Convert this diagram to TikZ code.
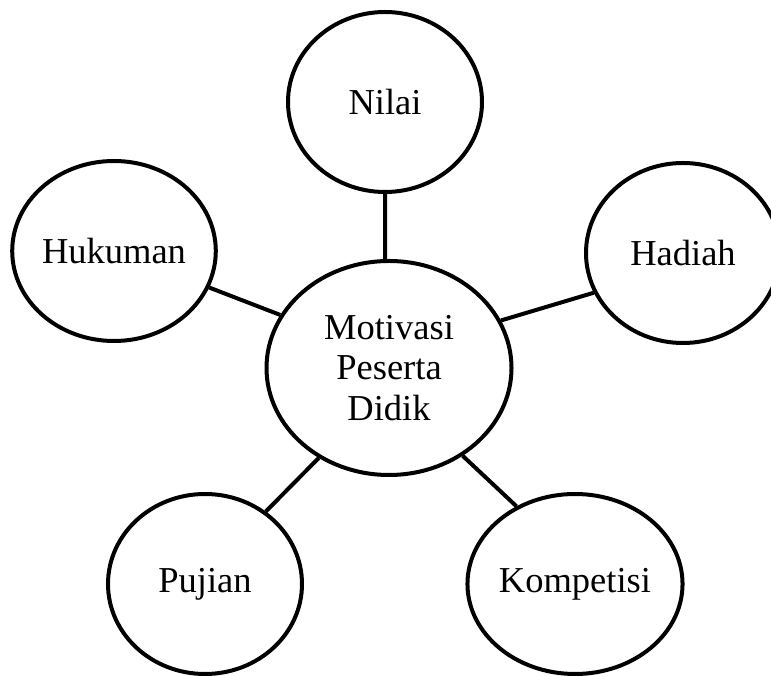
\documentclass[tikz,border=0pt]{standalone}
\usepackage{fontspec}
\setmainfont{Liberation Serif}
\usetikzlibrary{shapes.geometric}

\begin{document}
\begin{tikzpicture}[x=1bp,y=1bp,
  bubble/.style={draw=black, line width=4bp, ellipse, inner sep=0pt,
    minimum width=194bp, minimum height=180bp,
    font=\fontsize{36.5bp}{40.5bp}\selectfont, align=center},
  hub/.style={bubble, minimum width=245bp, minimum height=214bp},
  link/.style={draw=black, line width=4bp}]
  \useasboundingbox (0,0) rectangle (771,676);
  \clip (0,0) rectangle (771,676);

  % central idea
  \node[hub] (c) at (389,308) {Motivasi\\Peserta\\Didik};

  % surrounding factors
  \node[bubble] (nil) at (385,574) {Nilai};
  \node[bubble] (huk) at (114,425) {Hukuman};
  \node[bubble] (had) at (683,423) {Hadiah};
  \node[bubble] (puj) at (205,92)  {Pujian};
  \node[bubble] (kom) at (575,92)  {Kompetisi};

  % spokes
  \draw[link] (nil.south) -- (c.92);
  \draw[link] (huk.-21)   -- (c.154);
  \draw[link] (had.-156)  -- (c.23);
  \draw[link] (puj.50)    -- (c.-128);
  \draw[link] (kom.127)   -- (c.-50);
\end{tikzpicture}
\end{document}
